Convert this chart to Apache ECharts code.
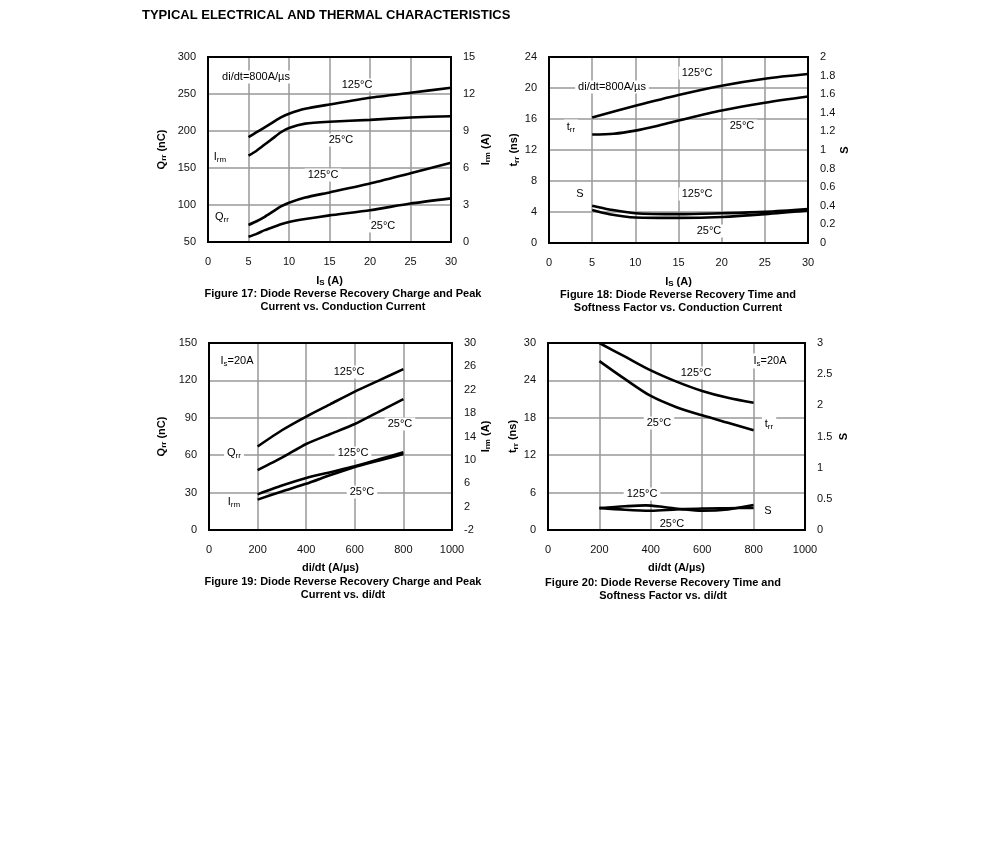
<!DOCTYPE html>
<html><head><meta charset="utf-8">
<script src="https://cdn.jsdelivr.net/npm/echarts@6/dist/echarts.min.js"></script>
<style>html,body{margin:0;padding:0;background:#fff}#c{width:991px;height:843px}</style>
</head><body><div id="c"></div>
<script>
// ---------- DATA ----------
// Figure 17 (x = Is in A)
const f17_irm125 = [[5,8.5],[6,8.9],[7,9.3],[8,9.7],[9,10.1],[10,10.4],[12,10.8],[15,11.15],[20,11.7],[25,12.1],[30,12.5]];
const f17_irm25  = [[5,7.0],[6,7.4],[7,7.9],[8,8.4],[9,8.9],[10,9.25],[12,9.6],[15,9.75],[20,9.9],[25,10.1],[30,10.2]];
const f17_qrr125 = [[5,73],[6,78],[7,84],[8,91],[9,98],[10,103],[12,110],[15,117],[20,129],[25,143],[30,157]];
const f17_qrr25  = [[5,57],[6,61],[7,66],[8,70],[9,74],[10,77],[12,81],[15,86],[20,93],[25,102],[30,109]];
// Figure 18
const f18_trr125 = [[5,16.2],[10,17.7],[15,19.1],[20,20.3],[25,21.2],[30,21.8]];
const f18_trr25  = [[5,14.0],[7.5,14.1],[10,14.5],[12.5,15.1],[15,15.8],[20,17.1],[25,18.1],[30,18.9]];
const f18_s125   = [[5,0.40],[7,0.36],[10,0.32],[15,0.31],[20,0.32],[25,0.335],[30,0.365]];
const f18_s25    = [[5,0.355],[7,0.31],[10,0.275],[15,0.27],[20,0.28],[25,0.31],[30,0.35]];
// Figure 19 (x = di/dt)
const f19_qrr125 = [[200,67],[300,80],[400,91],[500,101],[600,111],[700,120],[800,129]];
const f19_qrr25  = [[200,48],[300,58],[400,69],[500,77],[600,85],[700,95],[800,105]];
const f19_irm125 = [[200,4.1],[300,5.6],[400,6.9],[500,7.9],[600,8.9],[700,10.1],[800,11.3]];
const f19_irm25  = [[200,3.2],[300,4.6],[400,5.9],[500,7.4],[600,8.8],[700,9.9],[800,11.0]];
// Figure 20
const f20_trr125 = [[200,30],[300,27.8],[400,25.6],[500,23.8],[600,22.3],[700,21.2],[800,20.4]];
const f20_trr25  = [[200,27.1],[300,24.2],[400,21.5],[500,19.7],[600,18.4],[700,17.2],[800,16.0]];
const f20_s125   = [[200,0.35],[300,0.38],[380,0.395],[450,0.37],[520,0.335],[600,0.31],[700,0.33],[800,0.40]];
const f20_s25    = [[200,0.355],[300,0.325],[400,0.31],[500,0.33],[600,0.345],[700,0.35],[800,0.355]];
// Tick labels
const f19_rightTicks = [-2,2,6,10,14,18,22,26,30];

// ---------- LAYOUT ----------
const FONT = '"Liberation Sans", Arial, sans-serif';
const GRIDS = [
  {left:208, top:57, width:243, height:185},
  {left:549, top:57, width:259, height:186},
  {left:209, top:343, width:243, height:187},
  {left:548, top:343, width:257, height:187}
];
const richName = {
  m:{fontSize:11, fontWeight:'bold', fontFamily:FONT, color:'#000'},
  s:{fontSize:8, fontWeight:'bold', fontFamily:FONT, color:'#000', padding:[5,0,0,0]}
};
const richAnn = {
  m:{fontSize:11, fontFamily:FONT, color:'#000'},
  s:{fontSize:8, fontFamily:FONT, color:'#000', padding:[5,0,0,0]}
};

function xAxis(gi, min, max, interval, name){
  return {type:'value', gridIndex:gi, min, max, interval,
    name, nameLocation:'middle', nameGap:32,
    nameTextStyle:{rich:richName},
    axisLine:{show:false}, axisTick:{show:false},
    axisLabel:{fontSize:11, fontFamily:FONT, color:'#111', margin:14, formatter:v=>String(v)},
    splitLine:{show:true, lineStyle:{color:'#999', width:1.5}}};
}
function yAxis(gi, pos, min, max, interval, name, gap, extra){
  const a = {type:'value', gridIndex:gi, position:pos, min, max, interval,
    name, nameLocation:'middle', nameGap:gap, nameRotate:90,
    nameTextStyle:{rich:richName},
    axisLine:{show:false}, axisTick:{show:false},
    axisLabel:{fontSize:11, fontFamily:FONT, color:'#111', margin:12},
    splitLine:{show:pos==='left', lineStyle:{color:'#999', width:1.5}}};
  if (extra) Object.assign(a.axisLabel, extra);
  return a;
}
function line(data, xi, yi, sm){
  return {type:'line', data, xAxisIndex:xi, yAxisIndex:yi, smooth:sm, symbol:'none',
    lineStyle:{color:'#000', width:2.6}, z:3, silent:true};
}

const anns = [
  ['{m|di/dt=800A/µs}',256,77],['{m|125°C}',357,85],['{m|25°C}',341,140],['{m|I}{s|rm}',220,157],
  ['{m|125°C}',323,175],['{m|Q}{s|rr}',222,217],['{m|25°C}',383,226],
  ['{m|di/dt=800A/µs}',612,87],['{m|125°C}',697,73],['{m|t}{s|rr}',571,127],['{m|25°C}',742,126],
  ['{m|S}',580,194],['{m|125°C}',697,194],['{m|25°C}',709,231],
  ['{m|I}{s|s}{m|=20A}',237,361],['{m|125°C}',349,372],['{m|25°C}',400,424],['{m|Q}{s|rr}',234,453],
  ['{m|125°C}',353,453],['{m|25°C}',362,492],['{m|I}{s|rm}',234,502],
  ['{m|I}{s|s}{m|=20A}',770,361],['{m|125°C}',696,373],['{m|25°C}',659,423],['{m|t}{s|rr}',769,424],
  ['{m|125°C}',642,494],['{m|S}',768,511],['{m|25°C}',672,524]
];
const captions = [
  ['Figure 17: Diode Reverse Recovery Charge and Peak\nCurrent vs. Conduction Current',343,287],
  ['Figure 18: Diode Reverse Recovery Time and\nSoftness Factor vs. Conduction Current',678,288],
  ['Figure 19: Diode Reverse Recovery Charge and Peak\nCurrent vs. di/dt',343,575],
  ['Figure 20: Diode Reverse Recovery Time and\nSoftness Factor vs. di/dt',663,576]
];

const graphic = [];
graphic.push({type:'text', left:142, top:9, z:10, style:{text:'TYPICAL ELECTRICAL AND THERMAL CHARACTERISTICS',
  font:'bold 13px '+FONT, fill:'#000'}});
anns.forEach(a=>graphic.push({type:'text', x:a[1], y:a[2], z:50,
  style:{text:a[0], rich:richAnn, align:'center', verticalAlign:'middle', backgroundColor:'#fff', padding:[1,3]}}));
captions.forEach(c=>graphic.push({type:'text', x:c[1], y:c[2], z:10,
  style:{text:c[0], font:'bold 11px '+FONT, fill:'#000', align:'center', verticalAlign:'top', lineHeight:13}}));
GRIDS.forEach(g=>graphic.push({type:'rect', z:100, silent:true,
  shape:{x:g.left, y:g.top, width:g.width, height:g.height},
  style:{fill:'none', stroke:'#000', lineWidth:2}}));

const option = {
  animation:false,
  backgroundColor:'#fff',
  grid: GRIDS.map(g=>Object.assign({containLabel:false}, g)),
  xAxis:[
    xAxis(0,0,30,5,'{m|I}{s|S}{m| (A)}'),
    xAxis(1,0,30,5,'{m|I}{s|S}{m| (A)}'),
    xAxis(2,0,1000,200,'{m|di/dt (A/µs)}'),
    xAxis(3,0,1000,200,'{m|di/dt (A/µs)}')
  ],
  yAxis:[
    yAxis(0,'left',50,300,50,'{m|Q}{s|rr}{m| (nC)}',40),
    yAxis(0,'right',0,15,3,'{m|I}{s|rm}{m| (A)}',28),
    yAxis(1,'left',0,24,4,'{m|t}{s|rr}{m| (ns)}',26),
    yAxis(1,'right',0,2,0.2,'{m|S}',30),
    yAxis(2,'left',0,150,30,'{m|Q}{s|rr}{m| (nC)}',41),
    yAxis(2,'right',-2,30,4,'{m|I}{s|rm}{m| (A)}',27,{customValues:f19_rightTicks}),
    yAxis(3,'left',0,30,6,'{m|t}{s|rr}{m| (ns)}',25),
    yAxis(3,'right',0,3,0.5,'{m|S}',33)
  ],
  series:[
    line(f17_irm125,0,1,0.2), line(f17_irm25,0,1,0.2), line(f17_qrr125,0,0,0.2), line(f17_qrr25,0,0,0.2),
    line(f18_trr125,1,2,0.3), line(f18_trr25,1,2,0.3), line(f18_s125,1,3,0.3), line(f18_s25,1,3,0.3),
    line(f19_qrr125,2,4,0.2), line(f19_qrr25,2,4,0.2), line(f19_irm125,2,5,0.2), line(f19_irm25,2,5,0.2),
    line(f20_trr125,3,6,0.3), line(f20_trr25,3,6,0.3), line(f20_s125,3,7,0.3), line(f20_s25,3,7,0.3)
  ],
  graphic
};
const chart = echarts.init(document.getElementById('c'), null, {renderer:'canvas'});
chart.setOption(option);
</script></body></html>
